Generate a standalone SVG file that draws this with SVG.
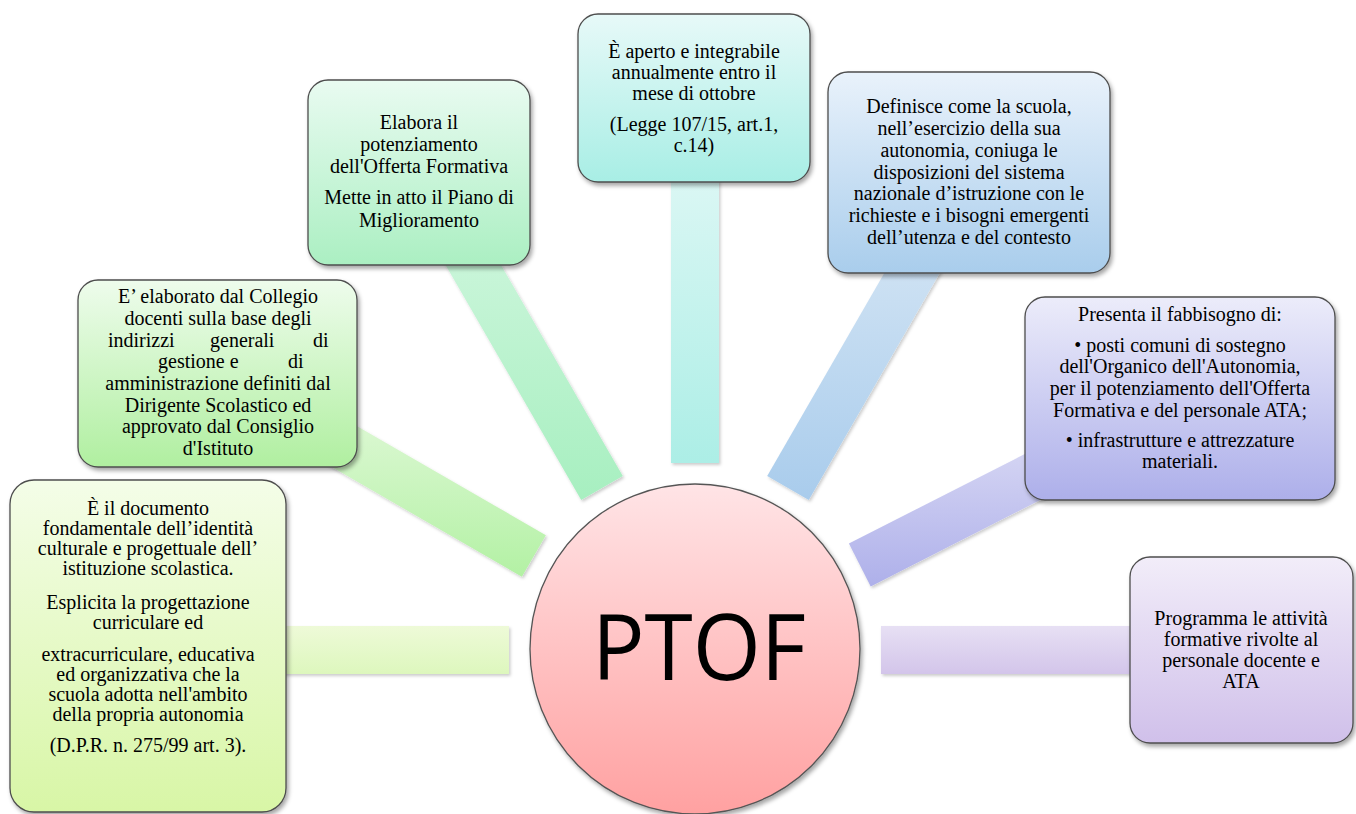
<svg xmlns="http://www.w3.org/2000/svg" width="1356" height="814" viewBox="0 0 1356 814">
<defs>
<style>
.t{font-family:"Liberation Serif","Times New Roman",serif;font-size:20px;fill:#000;text-anchor:middle}
.ts{font-family:"Liberation Serif","Times New Roman",serif;font-size:20px;fill:#000}
.box{stroke:#4d4d4d;stroke-width:1.3;filter:url(#sh)}
.bar{filter:url(#shb)}
</style>
<filter id="sh" x="-10%" y="-10%" width="125%" height="125%"><feDropShadow dx="2" dy="3" stdDeviation="2" flood-color="#000" flood-opacity="0.35"/></filter>
<filter id="shb" x="-10%" y="-10%" width="125%" height="125%"><feDropShadow dx="1.5" dy="2" stdDeviation="1.5" flood-color="#000" flood-opacity="0.2"/></filter>
<linearGradient id="g1" x1="0" y1="0" x2="0" y2="1"><stop offset="0" stop-color="#f4fde8"/><stop offset="1" stop-color="#d8f6a6"/></linearGradient>
<linearGradient id="g2" x1="0" y1="0" x2="0" y2="1"><stop offset="0" stop-color="#eefcec"/><stop offset="1" stop-color="#b0efa0"/></linearGradient>
<linearGradient id="g3" x1="0" y1="0" x2="0" y2="1"><stop offset="0" stop-color="#e9fbf1"/><stop offset="1" stop-color="#abefc2"/></linearGradient>
<linearGradient id="g4" x1="0" y1="0" x2="0" y2="1"><stop offset="0" stop-color="#e7f9f8"/><stop offset="1" stop-color="#a8eee5"/></linearGradient>
<linearGradient id="g5" x1="0" y1="0" x2="0" y2="1"><stop offset="0" stop-color="#e9f2fb"/><stop offset="1" stop-color="#a9cdec"/></linearGradient>
<linearGradient id="g6" x1="0" y1="0" x2="0" y2="1"><stop offset="0" stop-color="#ececfa"/><stop offset="1" stop-color="#adafea"/></linearGradient>
<linearGradient id="g7" x1="0" y1="0" x2="0" y2="1"><stop offset="0" stop-color="#f2edf9"/><stop offset="1" stop-color="#d0c0ea"/></linearGradient>
<linearGradient id="gc" x1="0" y1="0" x2="0" y2="1"><stop offset="0" stop-color="#ffe4e6"/><stop offset="1" stop-color="#ffa1a1"/></linearGradient>
<linearGradient id="k1" x1="0" y1="0" x2="0" y2="1"><stop offset="0" stop-color="#eefad8"/><stop offset="1" stop-color="#ddf7bd"/></linearGradient>
<linearGradient id="k2" x1="0" y1="0" x2="0" y2="1"><stop offset="0" stop-color="#dcf8d3"/><stop offset="1" stop-color="#b3f1a4"/></linearGradient>
<linearGradient id="k3" x1="0" y1="0" x2="0" y2="1"><stop offset="0" stop-color="#cdf6dc"/><stop offset="1" stop-color="#a7efc0"/></linearGradient>
<linearGradient id="k4" x1="0" y1="0" x2="0" y2="1"><stop offset="0" stop-color="#dbf7f4"/><stop offset="1" stop-color="#aceee6"/></linearGradient>
<linearGradient id="k5" x1="0" y1="0" x2="0" y2="1"><stop offset="0" stop-color="#d2e4f4"/><stop offset="1" stop-color="#a9ccec"/></linearGradient>
<linearGradient id="k6" x1="0" y1="0" x2="0" y2="1"><stop offset="0" stop-color="#d8d8f4"/><stop offset="1" stop-color="#aeb0ea"/></linearGradient>
<linearGradient id="k7" x1="0" y1="0" x2="0" y2="1"><stop offset="0" stop-color="#e7e0f4"/><stop offset="1" stop-color="#d3c5ea"/></linearGradient>
</defs>
<rect width="1356" height="814" fill="#fff"/>
<g id="connectors">
<rect class="bar" x="270" y="626" width="239" height="48" fill="url(#k1)"/>
<polygon class="bar" points="545.9,535.2 343.3,418.2 319.3,459.8 521.9,576.8" fill="url(#k2)"/>
<polygon class="bar" points="622.8,475.9 480.8,230 439.2,254 581.2,499.9" fill="url(#k3)"/>
<rect class="bar" x="671" y="175" width="48" height="288" fill="url(#k4)"/>
<polygon class="bar" points="808.8,499.9 945.8,262.6 904.2,238.6 767.2,475.9" fill="url(#k5)"/>
<polygon class="bar" points="870.7,586.4 1080.1,479.7 1058.3,436.9 848.9,543.6" fill="url(#k6)"/>
<rect class="bar" x="881" y="626" width="260" height="48" fill="url(#k7)"/>
</g>
<g id="center">
<circle cx="695" cy="649" r="165" fill="url(#gc)" stroke="#555" stroke-width="1.3" filter="url(#sh)"/>
<text x="699" y="680" font-family="'Open Sans','Noto Sans',sans-serif" font-size="92" text-anchor="middle" textLength="214" lengthAdjust="spacingAndGlyphs" fill="#000">PTOF</text>
</g>
<g id="node1">
<rect class="box" x="10" y="480" width="276" height="332" rx="24" fill="url(#g1)"/>
<text class="t" x="148" y="515">È il documento</text>
<text class="t" x="148" y="535">fondamentale dell’identità</text>
<text class="t" x="148" y="555">culturale e  progettuale  dell’</text>
<text class="t" x="148" y="575">istituzione scolastica.</text>
<text class="t" x="148" y="609">Esplicita la progettazione</text>
<text class="t" x="148" y="629">curriculare ed</text>
<text class="t" x="148" y="661">extracurriculare, educativa</text>
<text class="t" x="148" y="681">ed organizzativa che la</text>
<text class="t" x="148" y="701">scuola adotta nell'ambito</text>
<text class="t" x="148" y="721">della propria autonomia</text>
<text class="t" x="148" y="752">(D.P.R. n. 275/99 art. 3).</text>
</g>
<g id="node2">
<rect class="box" x="78" y="280" width="279" height="187" rx="20" fill="url(#g2)"/>
<text class="t" x="218" y="303">E’ elaborato dal Collegio</text>
<text class="t" x="218" y="325">docenti sulla base degli</text>
<text class="ts" y="347"><tspan x="108">indirizzi</tspan><tspan x="210">generali</tspan><tspan x="313">di</tspan></text>
<text class="ts" y="368"><tspan x="158">gestione e</tspan><tspan x="288">di</tspan></text>
<text class="t" x="218" y="390">amministrazione definiti dal</text>
<text class="t" x="218" y="412">Dirigente Scolastico ed</text>
<text class="t" x="218" y="433">approvato dal Consiglio</text>
<text class="t" x="218" y="455">d'Istituto</text>
</g>
<g id="node3">
<rect class="box" x="308" y="80" width="222" height="185" rx="20" fill="url(#g3)"/>
<text class="t" x="419" y="129">Elabora il</text>
<text class="t" x="419" y="151">potenziamento</text>
<text class="t" x="419" y="173">dell'Offerta Formativa</text>
<text class="t" x="419" y="204">Mette in atto il Piano di</text>
<text class="t" x="419" y="227">Miglioramento</text>
</g>
<g id="node4">
<rect class="box" x="578" y="14" width="232" height="168" rx="20" fill="url(#g4)"/>
<text class="t" x="694" y="58">È aperto e integrabile</text>
<text class="t" x="694" y="79">annualmente entro il</text>
<text class="t" x="694" y="100">mese di ottobre</text>
<text class="t" x="694" y="131">(Legge 107/15, art.1,</text>
<text class="t" x="694" y="152">c.14)</text>
</g>
<g id="node5">
<rect class="box" x="828" y="72" width="282" height="201" rx="20" fill="url(#g5)"/>
<text class="t" x="969" y="113">Definisce come la scuola,</text>
<text class="t" x="969" y="135">nell’esercizio della sua</text>
<text class="t" x="969" y="157">autonomia, coniuga le</text>
<text class="t" x="969" y="179">disposizioni del sistema</text>
<text class="t" x="969" y="200">nazionale d’istruzione con le</text>
<text class="t" x="969" y="222">richieste e i bisogni emergenti</text>
<text class="t" x="969" y="244">dell’utenza e del contesto</text>
</g>
<g id="node6">
<rect class="box" x="1025" y="297" width="310" height="203" rx="20" fill="url(#g6)"/>
<text class="t" x="1180" y="321">Presenta il fabbisogno di:</text>
<text class="t" x="1180" y="352">• posti comuni di sostegno</text>
<text class="t" x="1180" y="373">dell'Organico dell'Autonomia,</text>
<text class="t" x="1180" y="395">per il potenziamento dell'Offerta</text>
<text class="t" x="1180" y="417">Formativa e del personale ATA;</text>
<text class="t" x="1180" y="447">• infrastrutture e attrezzature</text>
<text class="t" x="1180" y="468">materiali.</text>
</g>
<g id="node7">
<rect class="box" x="1130" y="557" width="223" height="186" rx="20" fill="url(#g7)"/>
<text class="t" x="1241" y="625">Programma le attività</text>
<text class="t" x="1241" y="646">formative rivolte al</text>
<text class="t" x="1241" y="667">personale docente e</text>
<text class="t" x="1241" y="688">ATA</text>
</g>
</svg>
